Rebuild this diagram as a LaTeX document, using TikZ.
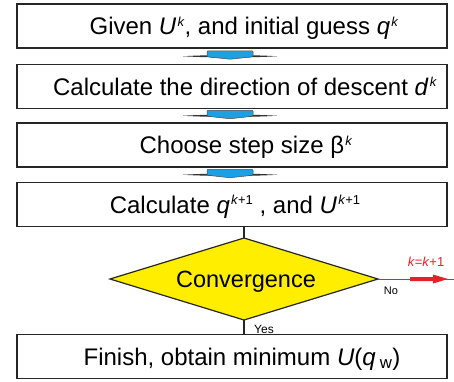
\documentclass[tikz,border=0pt]{standalone}
\usepackage{fontspec}
\setmainfont{Liberation Sans}
\usetikzlibrary{calc}
\definecolor{arrblue}{RGB}{28,160,226}
\definecolor{dyellow}{RGB}{255,238,0}
\definecolor{nored}{RGB}{232,32,40}
\newcommand\mysup[1]{\kern1.2pt\raisebox{8.5pt}{\fontsize{13}{15}\selectfont #1}}
\begin{document}
\begin{tikzpicture}[x=1pt,y=-1pt,
  box/.style={draw=black!85,line width=1.3pt,minimum width=430pt,minimum height=44pt,inner sep=0pt},
  btext/.style={inner sep=0pt,text height=17.5pt,text depth=0pt,font=\fontsize{24}{28}\selectfont},
  dshape/.style={draw=black!85,fill=dyellow,line width=1.2pt,line join=miter},
  small/.style={inner sep=0pt,font=\fontsize{11}{13}\selectfont},
  conn/.style={draw=black!85,line width=1.1pt}]
\useasboundingbox (0,0) rectangle (454,381);
% boxes
\node[box] (b1) at (232,26) {};
\node[box] (b2) at (232,86.5) {};
\node[box] (b3) at (232,145) {};
\node[box] (b4) at (232,204.5) {};
\node[box] (b5) at (232,356.5) {};
% texts
\node[btext] (t1) at ($(b1.center)+(12,0)$) {Given \textit{U}\mysup{\textit{k}}, and initial guess \textit{q}\mysup{\textit{k}}};
\node[btext] (t2) at ($(b2.center)+(13,0)$) {Calculate the direction of descent \textit{d}\mysup{\textit{k}}};
\node[btext] (t3) at ($(b3.center)+(14,0)$) {Choose step size β\mysup{\textit{k}}};
\node[btext] (t4) at ($(b4.center)+(3,0)$) {Calculate \textit{q}\mysup{\textit{k}+1} , and \textit{U}\mysup{\textit{k}+1}};
\node[btext] (t5) at ($(b5.center)+(10,0)$) {Finish, obtain minimum \textit{U}(\textit{q}\,\textsubscript{w})};
% decision diamond
\coordinate (dc) at (244,279);
\coordinate (dtop) at ($(dc)+(0,-41)$);
\coordinate (dbot) at ($(dc)+(0,41)$);
\coordinate (dleft) at ($(dc)+(-134,0)$);
\coordinate (dright) at ($(dc)+(134,0)$);
\path[dshape] (dtop) -- (dright) -- (dbot) -- (dleft) -- cycle;
\node[btext,font=\fontsize{23.5}{28}\selectfont] (conv) at ($(dc)+(2,0)$) {Convergence};
% blue arrows
\foreach \a/\b in {b1/b2,b2/b3,b3/b4}{
  \coordinate (m) at ($(\a.south)!0.5!(\b.north)+(-2,0)$);
  \fill[black!80] ($(m)+(-47,0)$) .. controls ($(m)+(-20,-1.6)$) and ($(m)+(20,-1.6)$) .. ($(m)+(47,0)$)
     .. controls ($(m)+(20,1.6)$) and ($(m)+(-20,1.6)$) .. cycle;
  \draw[fill=arrblue,draw=black!70,line width=0.5pt,rounded corners=1pt]
     ($(m)+(-23,-5.5)$) -- ($(m)+(23,-5.5)$) -- ($(m)+(23,0.5)$) -- ($(m)+(0,3)$) -- ($(m)+(-23,0.5)$) -- cycle;
}
% connectors
\draw[conn] (dtop |- b4.south) -- (dtop);
\draw[conn] (dbot) -- (dbot |- b5.north);
\coordinate (redend) at (454,279);
\draw[nored,line width=0.9pt] (dright) -- (redend);
\fill[nored] ($(dright)+(32,-2)$) -- ($(dright)+(55,-2)$) -- ($(dright)+(55,-4.5)$) -- ($(dright)+(70,0)$)
   -- ($(dright)+(55,4.5)$) -- ($(dright)+(55,2)$) -- ($(dright)+(32,2)$) -- cycle;
% labels
\node[small,text=nored,font=\fontsize{13}{15}\selectfont] (kl) at (426,262) {\textit{k}=\textit{k}+1};
\node[small] (nol) at (391,291) {No};
\node[small,font=\fontsize{12}{14}\selectfont] (yesl) at (264,329) {Yes};
\end{tikzpicture}
\end{document}
